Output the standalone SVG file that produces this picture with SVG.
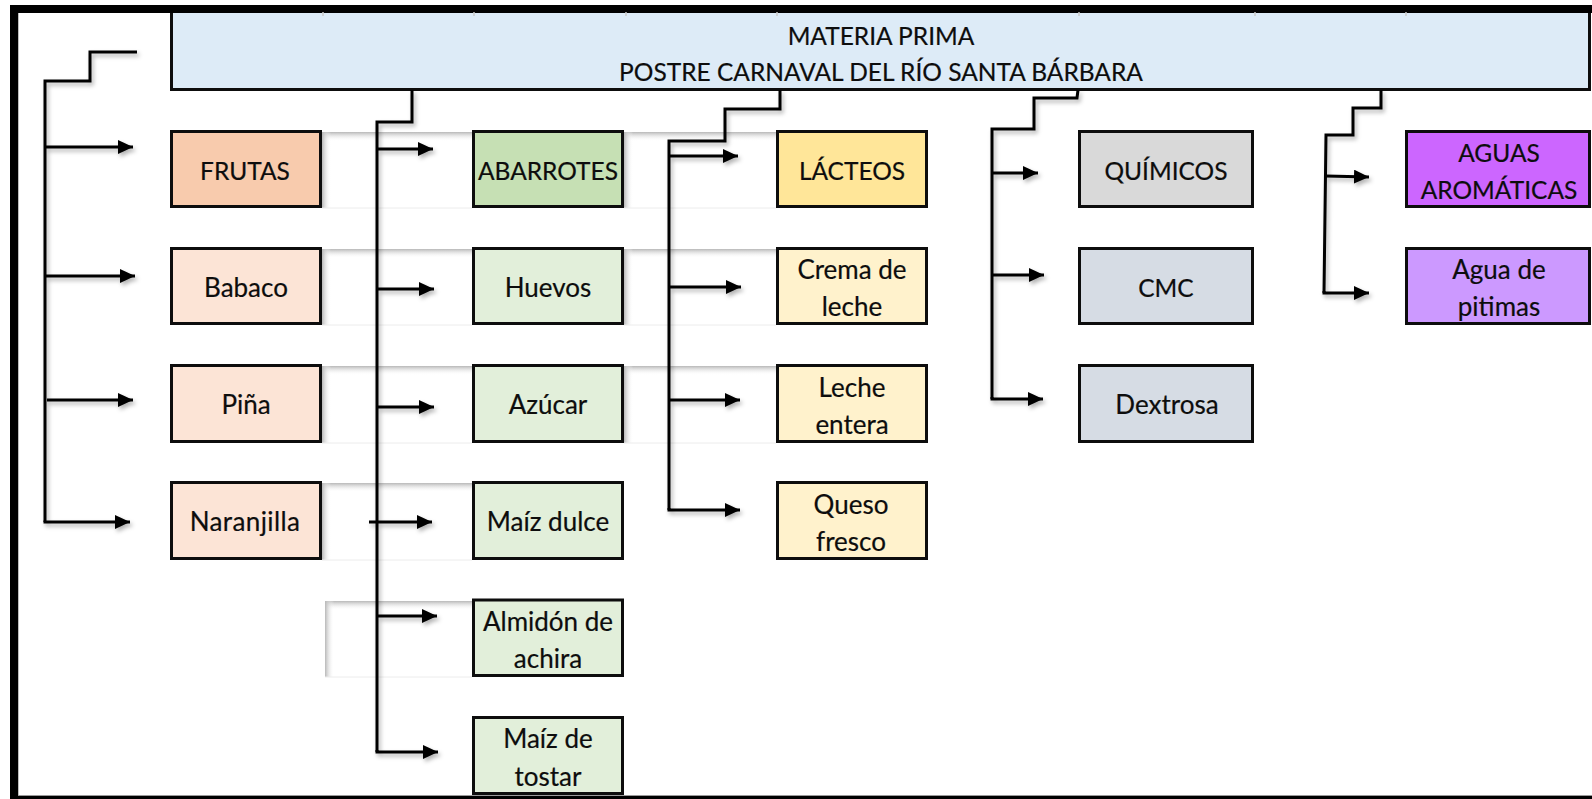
<svg xmlns="http://www.w3.org/2000/svg" width="1592" height="799" viewBox="0 0 1592 799">
<style>
.box{stroke:#0d0d0d;stroke-width:3}
.t{font-family:Lato,"Noto Sans",sans-serif;font-size:24.5px;fill:#0d0d0d;stroke:#0d0d0d;stroke-width:0.2;text-anchor:middle}
.m{font-size:26px}
.h{font-family:Lato,"Noto Sans",sans-serif;font-size:24.5px;fill:#0d0d0d;stroke:#0d0d0d;stroke-width:0.2;text-anchor:middle}
.c{fill:none;stroke:#000;stroke-width:3;stroke-linejoin:miter}
.a{fill:none;stroke:#000;stroke-width:3;marker-end:url(#ah)}
.tick{stroke:#c8c8c8;stroke-width:1.5}
</style>
<defs>
<marker id="ah" markerUnits="userSpaceOnUse" markerWidth="16" markerHeight="14" refX="15" refY="7" orient="auto">
<path d="M0,0 L15,7 L0,14 z" fill="#000"/>
</marker>
<linearGradient id="gTop" x1="0" y1="0" x2="0" y2="1">
<stop offset="0" stop-color="#b8b8b8"/>
<stop offset="1" stop-color="#ffffff" stop-opacity="0"/>
</linearGradient>
<linearGradient id="gLeft" x1="0" y1="0" x2="1" y2="0">
<stop offset="0" stop-color="#b8b8b8"/>
<stop offset="1" stop-color="#ffffff" stop-opacity="0"/>
</linearGradient>
<filter id="sh" x="-10%" y="-10%" width="130%" height="130%">
<feDropShadow dx="2" dy="3" stdDeviation="2" flood-color="#000" flood-opacity="0.3"/>
</filter>
</defs>

<rect x="0" y="0" width="1592" height="799" fill="#ffffff"/>

<!-- shadow bands -->
<g id="bands">
<g><rect x="322" y="132" width="150" height="9" fill="url(#gTop)"/><rect x="322" y="132" width="9" height="76" fill="url(#gLeft)"/><line x1="322" y1="208" x2="472" y2="208" stroke="#ececec"/></g>
<g><rect x="322" y="249" width="150" height="9" fill="url(#gTop)"/><rect x="322" y="249" width="9" height="76" fill="url(#gLeft)"/><line x1="322" y1="325" x2="472" y2="325" stroke="#ececec"/></g>
<g><rect x="322" y="366" width="150" height="9" fill="url(#gTop)"/><rect x="322" y="366" width="9" height="77" fill="url(#gLeft)"/><line x1="322" y1="443" x2="472" y2="443" stroke="#ececec"/></g>
<g><rect x="322" y="483" width="150" height="9" fill="url(#gTop)"/><rect x="322" y="483" width="9" height="77" fill="url(#gLeft)"/><line x1="322" y1="560" x2="472" y2="560" stroke="#ececec"/></g>
<g><rect x="325" y="601" width="147" height="9" fill="url(#gTop)"/><rect x="325" y="601" width="9" height="76" fill="url(#gLeft)"/><line x1="325" y1="677" x2="472" y2="677" stroke="#ececec"/></g>
<g><rect x="624" y="132" width="152" height="9" fill="url(#gTop)"/><rect x="624" y="132" width="9" height="76" fill="url(#gLeft)"/><line x1="624" y1="208" x2="776" y2="208" stroke="#ececec"/></g>
<g><rect x="624" y="249" width="152" height="9" fill="url(#gTop)"/><rect x="624" y="249" width="9" height="76" fill="url(#gLeft)"/><line x1="624" y1="325" x2="776" y2="325" stroke="#ececec"/></g>
<g><rect x="624" y="366" width="152" height="9" fill="url(#gTop)"/><rect x="624" y="366" width="9" height="77" fill="url(#gLeft)"/><line x1="624" y1="443" x2="776" y2="443" stroke="#ececec"/></g>
</g>

<!-- header -->
<g id="header">
<rect class="box" x="171.5" y="10" width="1418" height="79.5" fill="#ddebf7"/>
<text class="h" x="881" y="45">MATERIA PRIMA</text>
<text class="h" x="881" y="81">POSTRE CARNAVAL DEL RÍO SANTA BÁRBARA</text>
</g>

<!-- column 1 -->
<g id="frutas"><rect class="box" x="171.5" y="131.5" width="149" height="75" fill="#f8cbad"/><text class="t" x="245" y="180">FRUTAS</text></g>
<g id="babaco"><rect class="box" x="171.5" y="248.5" width="149" height="75" fill="#fce4d6"/><text class="t m" x="246" y="297">Babaco</text></g>
<g id="pina"><rect class="box" x="171.5" y="365.5" width="149" height="76" fill="#fce4d6"/><text class="t m" x="246" y="414">Piña</text></g>
<g id="naranjilla"><rect class="box" x="171.5" y="482.5" width="149" height="76" fill="#fce4d6"/><text class="t m" x="245" y="531" letter-spacing="0.4">Naranjilla</text></g>

<!-- column 2 -->
<g id="abarrotes"><rect class="box" x="473.5" y="131.5" width="149" height="75" fill="#c6e0b4"/><text class="t" x="548" y="180">ABARROTES</text></g>
<g id="huevos"><rect class="box" x="473.5" y="248.5" width="149" height="75" fill="#e2efda"/><text class="t m" x="548" y="297">Huevos</text></g>
<g id="azucar"><rect class="box" x="473.5" y="365.5" width="149" height="76" fill="#e2efda"/><text class="t m" x="548" y="414">Azúcar</text></g>
<g id="maiz-dulce"><rect class="box" x="473.5" y="482.5" width="149" height="76" fill="#e2efda"/><text class="t m" x="548" y="531">Maíz dulce</text></g>
<g id="almidon"><rect class="box" x="473.5" y="600" width="149" height="75.5" fill="#e2efda"/><text class="t m" x="548" y="631">Almidón de</text><text class="t m" x="548" y="668">achira</text></g>
<g id="maiz-tostar"><rect class="box" x="473.5" y="717.5" width="149" height="76" fill="#e2efda"/><text class="t m" x="548" y="748">Maíz de</text><text class="t m" x="548" y="786">tostar</text></g>

<!-- column 3 -->
<g id="lacteos"><rect class="box" x="777.5" y="131.5" width="149" height="75" fill="#ffe699"/><text class="t" x="852" y="180">LÁCTEOS</text></g>
<g id="crema"><rect class="box" x="777.5" y="248.5" width="149" height="75" fill="#fff2cc"/><text class="t m" x="852" y="279">Crema de</text><text class="t m" x="852" y="316">leche</text></g>
<g id="leche"><rect class="box" x="777.5" y="365.5" width="149" height="76" fill="#fff2cc"/><text class="t m" x="852" y="397">Leche</text><text class="t m" x="852" y="434">entera</text></g>
<g id="queso"><rect class="box" x="777.5" y="482.5" width="149" height="76" fill="#fff2cc"/><text class="t m" x="851" y="514">Queso</text><text class="t m" x="851" y="551">fresco</text></g>

<!-- column 4 -->
<g id="quimicos"><rect class="box" x="1079.5" y="131.5" width="173" height="75" fill="#d9d9d9"/><text class="t" x="1166" y="180">QUÍMICOS</text></g>
<g id="cmc"><rect class="box" x="1079.5" y="248.5" width="173" height="75" fill="#d6dce4"/><text class="t" x="1166" y="297">CMC</text></g>
<g id="dextrosa"><rect class="box" x="1079.5" y="365.5" width="173" height="76" fill="#d6dce4"/><text class="t m" x="1167" y="414">Dextrosa</text></g>

<!-- column 5 -->
<g id="aguas"><rect class="box" x="1406.5" y="131.5" width="183" height="75" fill="#cc66ff"/><text class="t" x="1499" y="162">AGUAS</text><text class="t" x="1499" y="199">AROMÁTICAS</text></g>
<g id="pitimas"><rect class="box" x="1406.5" y="248.5" width="183" height="75" fill="#cc99ff"/><text class="t m" x="1499" y="279">Agua de</text><text class="t m" x="1499" y="316">pitimas</text></g>

<!-- connectors -->
<g id="connectors" filter="url(#sh)">
<polyline class="c" points="137,52 90,52 90,81 45,81 45,522"/>
<line class="a" x1="44" y1="147" x2="133" y2="147"/>
<line class="a" x1="44" y1="276" x2="135" y2="276"/>
<line class="a" x1="47" y1="400" x2="133" y2="400"/>
<polyline class="a" points="45,520.5 45,522 130,522"/>

<polyline class="c" points="412,90 412,122 377,122 377,752"/>
<line class="a" x1="376" y1="149" x2="433" y2="149"/>
<line class="a" x1="376" y1="289" x2="434" y2="289"/>
<line class="a" x1="376" y1="407" x2="434" y2="407"/>
<line class="a" x1="369" y1="522" x2="432" y2="522"/>
<line class="a" x1="376" y1="616" x2="437" y2="616"/>
<polyline class="a" points="377,750 377,752 438,752"/>

<polyline class="c" points="780,90 780,109 725,109 725,141 669,141 669,510"/>
<line class="a" x1="668" y1="156" x2="738" y2="156"/>
<line class="a" x1="668" y1="287" x2="741" y2="287"/>
<line class="a" x1="668" y1="400" x2="740" y2="400"/>
<polyline class="a" points="669,508 669,510 740,510"/>

<polyline class="c" points="1078,90 1077,98 1034,98 1034,129 992,129 992,399"/>
<line class="a" x1="991" y1="173" x2="1038" y2="173"/>
<line class="a" x1="991" y1="275" x2="1044" y2="275"/>
<polyline class="a" points="992,397 992,399 1043,399"/>

<polyline class="c" points="1381,90 1381,108 1353,108 1353,135 1326,135 1324,293"/>
<line class="a" x1="1326" y1="176" x2="1369" y2="177"/>
<polyline class="a" points="1324,291 1324,293 1369,293"/>
</g>

<!-- frame -->
<g id="frame">
<rect x="14" y="9" width="1620" height="791" fill="none" stroke="#000" stroke-width="8"/>
<line x1="18.5" y1="13" x2="18.5" y2="795" stroke="#bdbdbd" stroke-width="1"/>
<line x1="18" y1="795.5" x2="1592" y2="795.5" stroke="#9a9a9a" stroke-width="1"/>
<line class="tick" x1="323" y1="12" x2="323" y2="16"/>
<line class="tick" x1="474" y1="12" x2="474" y2="16"/>
<line class="tick" x1="626" y1="12" x2="626" y2="16"/>
<line class="tick" x1="777" y1="12" x2="777" y2="16"/>
<line class="tick" x1="1079" y1="12" x2="1079" y2="16"/>
<line class="tick" x1="1255" y1="12" x2="1255" y2="16"/>
<line class="tick" x1="1406" y1="12" x2="1406" y2="16"/>
</g>
</svg>
